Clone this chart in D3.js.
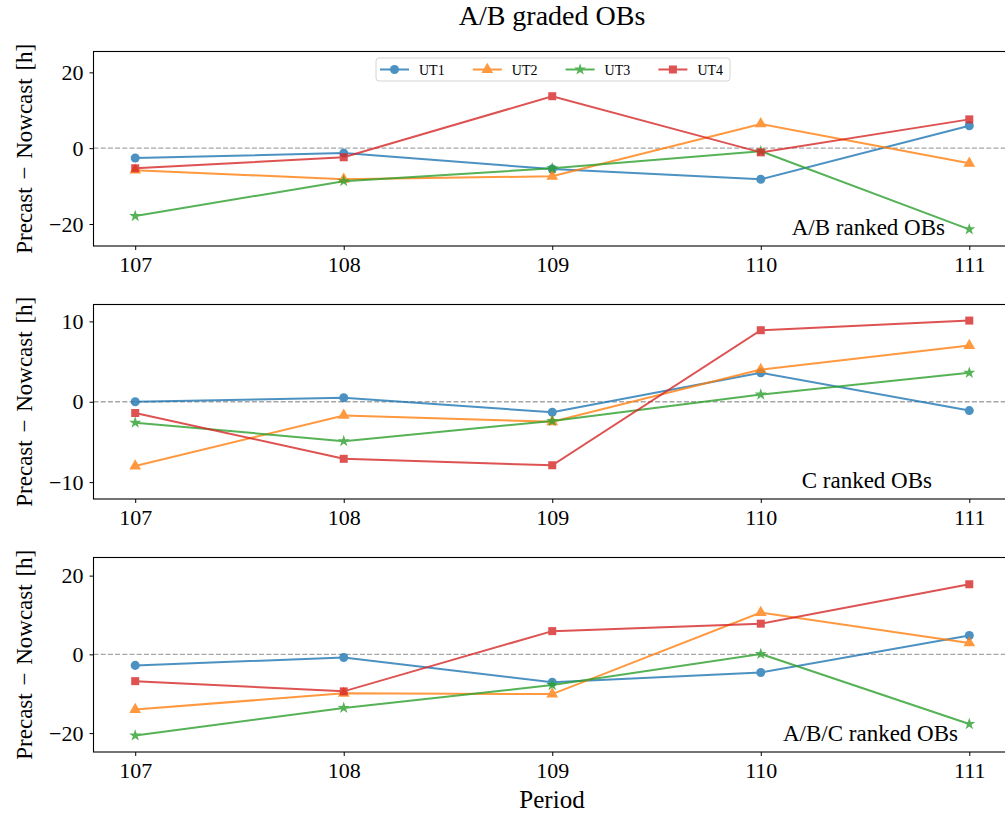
<!DOCTYPE html>
<html>
<head>
<meta charset="utf-8">
<script src="https://cdn.jsdelivr.net/npm/d3@7"></script>
<style>
  body { margin: 0; background: #fff; }
  svg { display: block; font-family: "Liberation Serif", "DejaVu Serif", serif; }
</style>
</head>
<body>
<svg id="chart" width="1005" height="814"></svg>
<script>
// data
var periods = [107, 108, 109, 110, 111];
var units = ["UT1", "UT2", "UT3", "UT4"];
var panelNames = ["A/B ranked OBs", "C ranked OBs", "A/B/C ranked OBs"];

var abUT1 = [-2.6, -1.3, -5.5, -8.2, 5.9];
var abUT2 = [-5.8, -8.2, -7.4, 6.4, -4.0];
var abUT3 = [-17.9, -8.7, -5.3, -0.8, -21.4];
var abUT4 = [-5.3, -2.4, 13.7, -1.1, 7.6];

var cUT1 = [0.0, 0.5, -1.3, 3.6, -1.1];
var cUT2 = [-8.0, -1.7, -2.5, 4.0, 7.0];
var cUT3 = [-2.6, -4.9, -2.4, 0.9, 3.6];
var cUT4 = [-1.4, -7.1, -7.9, 8.9, 10.1];

var abcUT1 = [-2.8, -0.8, -7.1, -4.6, 4.8];
var abcUT2 = [-14.0, -9.9, -10.1, 10.6, 2.9];
var abcUT3 = [-20.6, -13.6, -7.8, 0.1, -17.7];
var abcUT4 = [-6.8, -9.4, 5.9, 7.8, 17.8];

var yTicks1 = [-20, 0, 20];
var yTicks2 = [-10, 0, 10];
var yTicks3 = [-20, 0, 20];

var panels = [
    { series: [abUT1, abUT2, abUT3, abUT4], ydom: [-25.8, 25.5], ticks: yTicks1, top: 51.5, legend: true },
    { series: [cUT1, cUT2, cUT3, cUT4], ydom: [-12.1, 12.1], ticks: yTicks2, top: 304.5, legend: false },
    { series: [abcUT1, abcUT2, abcUT3, abcUT4], ydom: [-24.8, 24.6], ticks: yTicks3, top: 557.5, legend: false }
];

var colors = ["#1f77b4", "#ff7f0e", "#2ca02c", "#d62728"];
var symbols = [d3.symbolCircle, d3.symbolTriangle, d3.symbolStar, d3.symbolSquare];
var symSizes = [64, 60, 45, 64];

var svg = d3.select("svg#chart"),
    axLeft = 93.5,
    panelH = 194.5,
    x = d3.scaleLinear().domain([106.8, 111.2]).range([axLeft, 1011]);

svg.append("text")
    .attr("x", 552).attr("y", 25)
    .attr("text-anchor", "middle")
    .style("font-size", "28px")
    .text("A/B graded OBs");

panels.forEach(function(p, i) {
    var y = d3.scaleLinear().domain(p.ydom).range([p.top + panelH, p.top]);
    var g = svg.append("g");

    // dashed zero line
    g.append("line")
        .attr("x1", axLeft).attr("x2", 1011)
        .attr("y1", y(0)).attr("y2", y(0))
        .attr("stroke", "#a6a6a6").attr("stroke-width", 1.3)
        .attr("stroke-dasharray", "5,2.2");

    // axes
    g.append("g")
        .attr("transform", "translate(0," + (p.top + panelH) + ")")
        .call(d3.axisBottom(x).tickValues(periods).tickFormat(d3.format("d")).tickSizeOuter(0).tickSize(4).tickPadding(6))
        .attr("font-family", null)
        .call(function(a) { a.select(".domain").remove(); })
        .selectAll("text").style("font-size", "22px").attr("fill", "#000");

    g.append("g")
        .attr("transform", "translate(" + axLeft + ",0)")
        .call(d3.axisLeft(y).tickValues(p.ticks).tickFormat(function(d) { return d < 0 ? "\u2212" + (-d) : d; }).tickSize(4).tickPadding(6))
        .attr("font-family", null)
        .call(function(a) { a.select(".domain").remove(); })
        .selectAll("text").style("font-size", "22px").attr("fill", "#000");

    g.append("rect")
        .attr("x", axLeft).attr("y", p.top)
        .attr("width", 1011 - axLeft).attr("height", panelH)
        .attr("fill", "none").attr("stroke", "#000").attr("stroke-width", 1.1);

    g.append("text")
        .attr("transform", "translate(32," + (p.top + panelH / 2) + ") rotate(-90)")
        .attr("text-anchor", "middle")
        .style("font-size", "23px")
        .style("word-spacing", "2px")
        .text("Precast \u2212 Nowcast [h]");

    var line = d3.line()
        .x(function(d, k) { return x(periods[k]); })
        .y(function(d) { return y(d); });

    p.series.forEach(function(s, j) {
        var sg = g.append("g").attr("opacity", 0.8);
        sg.append("path")
            .datum(s)
            .attr("d", line)
            .attr("fill", "none")
            .attr("stroke", colors[j])
            .attr("stroke-width", 2);
        sg.selectAll("path.pt")
            .data(s)
            .enter()
            .append("path")
            .attr("class", "pt")
            .attr("transform", function(d, k) { return "translate(" + x(periods[k]) + "," + y(d) + ")"; })
            .attr("d", d3.symbol().type(symbols[j]).size(symSizes[j]))
            .attr("fill", colors[j]);
    });

    var ends = [945, 932, 958];
    g.append("text")
        .attr("x", ends[i]).attr("y", p.top + panelH - 11)
        .attr("text-anchor", "end")
        .style("font-size", "23px")
        .text(panelNames[i]);

    if (p.legend) {
        var lg = g.append("g").attr("transform", "translate(376," + (p.top + 6.5) + ")");
        lg.append("rect")
            .attr("x", 0).attr("y", 0).attr("width", 354).attr("height", 23).attr("rx", 3)
            .attr("fill", "#fff").attr("stroke", "#d4d4d4");
        units.forEach(function(u, j) {
            var it = lg.append("g").attr("transform", "translate(" + (4 + j * 92.8) + ",11.5)");
            var ig = it.append("g").attr("opacity", 0.8);
            ig.append("line").attr("x1", 0).attr("x2", 29).attr("stroke", colors[j]).attr("stroke-width", 2);
            ig.append("path")
                .attr("transform", "translate(14.5,0)")
                .attr("d", d3.symbol().type(symbols[j]).size(symSizes[j]))
                .attr("fill", colors[j]);
            it.append("text").attr("x", 39).attr("y", 5).style("font-size", "14px").text(u);
        });
    }
});

svg.append("text")
    .attr("x", 552).attr("y", 808)
    .attr("text-anchor", "middle")
    .style("font-size", "25px")
    .text("Period");
</script>
</body>
</html>
